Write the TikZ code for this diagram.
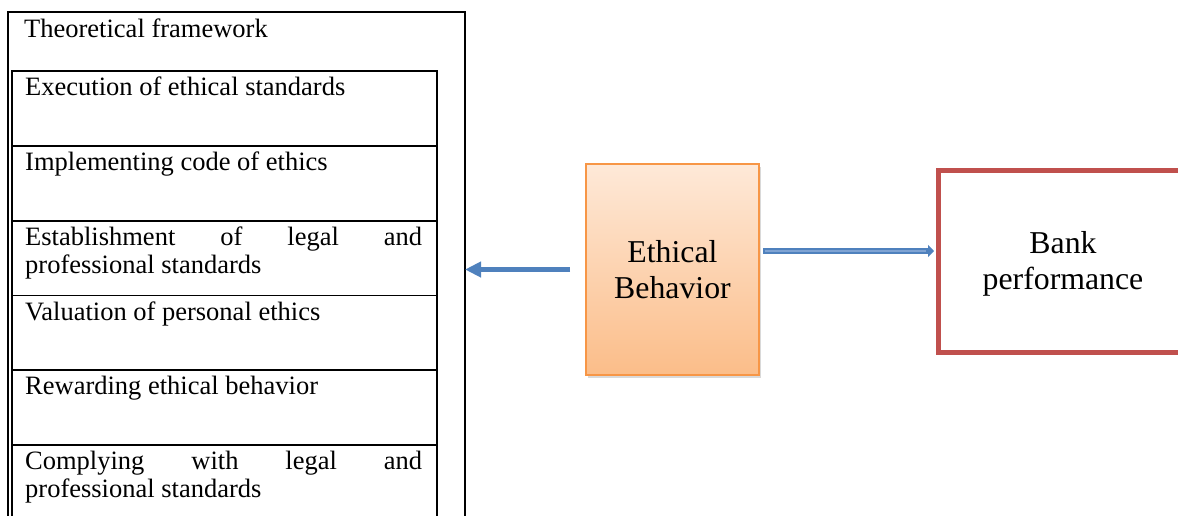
\documentclass[tikz,border=0pt]{standalone}
\usepackage{fontspec}
\setmainfont{Liberation Serif}
\usetikzlibrary{arrows.meta,shadows}
\definecolor{arrowblue}{HTML}{4F81BD}
\definecolor{arrowlight}{HTML}{7FA3D3}
\definecolor{ebborder}{HTML}{F79646}
\definecolor{ebtop}{HTML}{FEE9D8}
\definecolor{ebbottom}{HTML}{FBBD89}
\definecolor{bankred}{HTML}{C0504D}
\hyphenpenalty=10000 \exhyphenpenalty=10000 \tolerance=10000
\newcommand\myrowfont{\fontsize{26.5pt}{28pt}\selectfont}
\newcommand\mybigfont{\fontsize{31.8pt}{36.5pt}\selectfont}
\tikzset{
  framebox/.style={draw=black, line width=1.8pt, minimum width=457pt, minimum height=520pt,
    anchor=north west, inner sep=0pt, outer sep=0pt},
  rowbox/.style={draw=black, line width=1.8pt, minimum width=425pt, minimum height=74.8pt,
    anchor=north west, inner sep=0pt, outer sep=0pt},
  rowtext/.style={anchor=north west, inner sep=0pt, text width=397pt, align=justify, font=\myrowfont},
  ebbox/.style={draw=ebborder, line width=1.5pt, top color=ebtop, bottom color=ebbottom,
    minimum width=173pt, minimum height=211pt, anchor=north west, inner sep=0pt, outer sep=0pt,
    font=\mybigfont, align=center,
    drop shadow={shadow xshift=2pt, shadow yshift=-2.5pt, opacity=0.3}},
  bankbox/.style={draw=bankred, line width=5pt, minimum width=250pt, minimum height=182pt,
    anchor=north west, inner sep=0pt, outer sep=0pt},
  banktext/.style={font=\mybigfont, align=center, inner sep=0pt},
  leftarrow/.style={arrowblue, line width=5pt, -{Triangle[length=16pt,width=15pt]}},
  rightarrow/.style={arrowblue, line width=6.5pt, -{Triangle[length=6pt,width=12pt]}},
  rightinner/.style={arrowlight, line width=1.5pt}
}
\begin{document}
\begin{tikzpicture}[x=1pt,y=-1pt]
\useasboundingbox (0,0) rectangle (1178,515);
\clip (0,0) rectangle (1178,515);
% outer frame
\node[framebox] (frame) at (8,12) {};
\node[rowtext] (tf) at ([xshift=16pt,yshift=-7pt]frame.north west) {Theoretical framework};
% rows
\node[rowbox] (r1) at (12,71) {};
\node[rowbox] (r2) at (r1.south west) {};
\node[rowbox] (r3) at (r2.south west) {};
\node[rowbox] (r4) at (r3.south west) {};
\node[rowbox] (r5) at (r4.south west) {};
\node[rowbox] (r6) at (r5.south west) {};
\node[rowtext] (t1) at ([xshift=13pt,yshift=-6pt]r1.north west) {Execution of ethical standards};
\node[rowtext] (t2) at ([xshift=13pt,yshift=-6pt]r2.north west) {Implementing code of ethics};
\node[rowtext] (t3) at ([xshift=13pt,yshift=-6pt]r3.north west) {Establishment of legal and professional standards};
\node[rowtext] (t4) at ([xshift=13pt,yshift=-6pt]r4.north west) {Valuation of personal ethics};
\node[rowtext] (t5) at ([xshift=13pt,yshift=-6pt]r5.north west) {Rewarding ethical behavior};
\node[rowtext] (t6) at ([xshift=13pt,yshift=-6pt]r6.north west) {Complying with legal and professional standards};
% ethical behavior
\node[ebbox] (eb) at (586,164) {Ethical\\Behavior};
% bank performance
\node[bankbox] (bank) at (938,170) {};
\node[banktext] (banktxt) at ([yshift=-3pt]bank.center) {Bank\\performance};
% arrows
\draw[leftarrow] ([xshift=-16pt]eb.west) -- (frame.east |- eb.west);
\draw[rightarrow] ([xshift=4pt,yshift=18.5pt]eb.east) -- ([xshift=-4pt,yshift=10pt]bank.west);
\draw[rightinner] ([xshift=6pt,yshift=18.5pt]eb.east) -- ([xshift=-12pt,yshift=10pt]bank.west);
\end{tikzpicture}
\end{document}
